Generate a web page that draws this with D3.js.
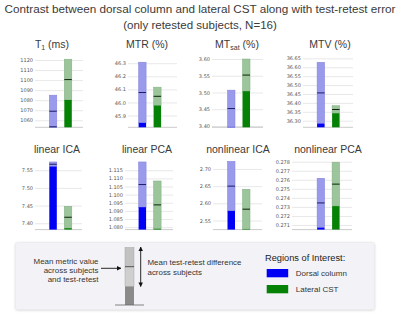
<!DOCTYPE html>
<html>
<head>
<meta charset="utf-8">
<script src="https://cdn.jsdelivr.net/npm/d3@7"></script>
<style>
html,body{margin:0;padding:0;background:#fff;}
svg{display:block;font-family:"Liberation Sans","Helvetica Neue",Arial,sans-serif;}
</style>
</head>
<body>
<svg id="chart" width="400" height="319"></svg>
<script>
// ---------- data ----------
const regions = ["Dorsal column", "Lateral CST"];
const metricTitles = ["T1 (ms)", "MTR (%)", "MTsat (%)", "MTV (%)", "linear ICA", "linear PCA", "nonlinear ICA", "nonlinear PCA"];
const dorsalMean = [1069.0, 46.076, 3.452, 36.456, 7.567, 1.1062, 2.650, 0.27344];
const dorsalDiff = [16.0, 0.232, 0.055, 0.172, 0.0065, 0.0139, 0.072, 0.00273];
const lateralMean = [1100.5, 46.047, 3.552, 36.363, 7.417, 1.0937, 2.583, 0.27552];
const lateralDiff = [20.3, 0.070, 0.048, 0.021, 0.031, 0.0147, 0.058, 0.00243];
const yMin = [1053.0, 45.81, 3.396, 36.263, 7.382, 1.0785, 2.5236, 0.27049];
const yMax = [1122.0, 46.34, 3.603, 36.652, 7.579, 1.1213, 2.726, 0.27819];
const tickValues = [
  [1060, 1070, 1080, 1090, 1100, 1110, 1120],
  [45.9, 46.0, 46.1, 46.2, 46.3],
  [3.40, 3.45, 3.50, 3.55, 3.60],
  [36.30, 36.35, 36.40, 36.45, 36.50, 36.55, 36.60, 36.65],
  [7.40, 7.45, 7.50, 7.55],
  [1.080, 1.085, 1.090, 1.095, 1.100, 1.105, 1.110, 1.115],
  [2.55, 2.60, 2.65, 2.70],
  [0.271, 0.272, 0.273, 0.274, 0.275, 0.276, 0.277, 0.278]
];
const tickFormats = [".0f", ".1f", ".2f", ".2f", ".2f", ".3f", ".2f", ".3f"];
const legendTitle = "Regions of Interest:";

// ---------- layout ----------
const svg = d3.select("#chart");
const colors = {
  "Dorsal column": {light: "#9a9aec", lightStroke: "#8080dd", dark: "#0000f5", mean: "#1c1c66"},
  "Lateral CST":   {light: "#9cc59c", lightStroke: "#80ad80", dark: "#058205", mean: "#0c240c"}
};
const barLeft = [49.3, 138.6, 227.5, 317.1];
const gridX = [
  [[35, 83], [128, 177], [212, 263], [303, 353]],
  [[35, 82], [125, 173], [213, 262], [292, 352]]
];
const rowY = [[58, 127.3], [160, 229.6]];
const titleY = [48, 152.5];
const titleX = [52, 147, 237, 330, 57, 147, 238, 328];

function fit(sel, size, target) {
  sel.attr("font-size", size);
  const w = sel.node().getComputedTextLength();
  const fs = size * target / w;
  sel.attr("font-size", fs);
  return fs;
}

// main titles
const mt = svg.append("text").attr("x", 200).attr("y", 12.5).attr("text-anchor", "middle")
  .attr("fill", "#3a3a3a")
  .text("Contrast between dorsal column and lateral CST along with test-retest error");
fit(mt, 11, 391);
const st = svg.append("text").attr("x", 200).attr("y", 28.5).attr("text-anchor", "middle")
  .attr("fill", "#3a3a3a").text("(only retested subjects, N=16)");
fit(st, 9, 154);

metricTitles.forEach((title, i) => {
  const row = Math.floor(i / 4), col = i % 4;
  const [gx0, gx1] = gridX[row][col];
  const [top, bottom] = rowY[row];
  const g = svg.append("g");

  const y = d3.scaleLinear().domain([yMin[i], yMax[i]]).range([bottom, top]);
  const x = d3.scaleBand().domain(regions)
    .range([barLeft[col] - 7.5, barLeft[col] + 30]).paddingInner(0.5).paddingOuter(0.5);

  // title
  const t = g.append("text").attr("x", titleX[i]).attr("y", titleY[row])
    .attr("text-anchor", "middle").attr("font-size", 10.5).attr("fill", "#3a3a3a");
  if (title === "T1 (ms)") {
    t.append("tspan").text("T");
    t.append("tspan").attr("font-size", 7).attr("dy", 2).text("1");
    t.append("tspan").attr("dy", -2).text(" (ms)");
  } else if (title === "MTsat (%)") {
    t.append("tspan").text("MT");
    t.append("tspan").attr("font-size", 7).attr("dy", 2).text("sat");
    t.append("tspan").attr("dy", -2).text(" (%)");
  } else {
    t.text(title);
  }

  // y axis (grid + labels)
  const axis = d3.axisLeft(y).tickValues(tickValues[i]).tickFormat(d3.format(tickFormats[i]))
    .tickSize(-(gx1 - gx0)).tickPadding(2);
  const ag = g.append("g").attr("transform", `translate(${gx0},0)`).call(axis);
  ag.select(".domain").remove();
  ag.selectAll(".tick line").attr("stroke", "#e2e2e2").attr("stroke-width", 0.8);
  ag.selectAll(".tick text").attr("font-size", 5).attr("fill", "#555")
    .attr("font-family", "'DejaVu Sans', sans-serif");
  // baseline
  g.append("line").attr("x1", gx0).attr("x2", gx1).attr("y1", bottom).attr("y2", bottom)
    .attr("stroke", "#bdbdbd").attr("stroke-width", 0.8);

  const stats = [
    {r: regions[0], m: dorsalMean[i], d: dorsalDiff[i]},
    {r: regions[1], m: lateralMean[i], d: lateralDiff[i]}
  ];
  stats.forEach(s => {
    const c = colors[s.r];
    const lo = Math.max(yMin[i], s.m - s.d);
    const hi = Math.min(yMax[i], s.m + s.d);
    g.append("rect").attr("x", x(s.r)).attr("width", x.bandwidth())
      .attr("y", y(hi)).attr("height", y(lo) - y(hi))
      .attr("fill", c.light).attr("stroke", c.lightStroke).attr("stroke-width", 0.5);
    if (s.m - s.d > yMin[i]) {
      g.append("rect").attr("x", x(s.r)).attr("width", x.bandwidth())
        .attr("y", y(s.m - s.d)).attr("height", y(yMin[i]) - y(s.m - s.d))
        .attr("fill", c.dark);
    } else {
      g.append("rect").attr("x", x(s.r)).attr("width", x.bandwidth())
        .attr("y", y(yMin[i]) - 1).attr("height", 1).attr("fill", c.mean);
    }
    g.append("line").attr("x1", x(s.r)).attr("x2", x(s.r) + x.bandwidth())
      .attr("y1", y(s.m)).attr("y2", y(s.m)).attr("stroke", c.mean).attr("stroke-width", 1);
  });
});

// ---------- legend box ----------
const lg = svg.append("g");
const defs = svg.append("defs");
const flt = defs.append("filter").attr("id", "sh").attr("x", "-5%").attr("y", "-10%").attr("width", "110%").attr("height", "130%");
flt.append("feDropShadow").attr("dx", 0).attr("dy", 0.6).attr("stdDeviation", 0.8).attr("flood-color", "#000").attr("flood-opacity", 0.18);
lg.append("rect").attr("x", 15.5).attr("y", 242.5).attr("width", 359).attr("height", 67).attr("rx", 2)
  .attr("fill", "#f3f3f7").attr("stroke", "#e4e4e8").attr("stroke-width", 0.5).attr("filter", "url(#sh)");

const arrowDefs = defs.append("marker").attr("id", "ah").attr("viewBox", "0 0 10 10").attr("refX", 9).attr("refY", 5)
  .attr("markerWidth", 5).attr("markerHeight", 5).attr("orient", "auto-start-reverse");
arrowDefs.append("path").attr("d", "M0,0 L10,5 L0,10 z").attr("fill", "#111");

// example bar
lg.append("rect").attr("x", 125).attr("y", 247.5).attr("width", 9).attr("height", 19).attr("fill", "#c2c2c2").attr("stroke", "#999").attr("stroke-width", 0.4);
lg.append("rect").attr("x", 125).attr("y", 266.5).attr("width", 9).attr("height", 20).attr("fill", "#cfcfcf").attr("stroke", "#999").attr("stroke-width", 0.4);
lg.append("rect").attr("x", 125).attr("y", 286.5).attr("width", 9).attr("height", 18.5).attr("fill", "#8a8a8a");
lg.append("line").attr("x1", 125).attr("x2", 134).attr("y1", 266.7).attr("y2", 266.7).attr("stroke", "#555").attr("stroke-width", 1);
lg.append("line").attr("x1", 115).attr("x2", 144).attr("y1", 305).attr("y2", 305).attr("stroke", "#666").attr("stroke-width", 0.8);

lg.append("line").attr("x1", 101).attr("x2", 121).attr("y1", 268.3).attr("y2", 268.3)
  .attr("stroke", "#111").attr("stroke-width", 0.9).attr("marker-end", "url(#ah)");
lg.append("line").attr("x1", 140.7).attr("x2", 140.7).attr("y1", 247).attr("y2", 286.5)
  .attr("stroke", "#111").attr("stroke-width", 0.9).attr("marker-end", "url(#ah)").attr("marker-start", "url(#ah)");

const leftText = ["Mean metric value", "across subjects", "and test-retest"];
const lt0 = lg.append("text").attr("x", 98.5).attr("y", 264).attr("text-anchor", "end").attr("fill", "#333").text(leftText[0]);
const lfs = fit(lt0, 7.2, 65);
leftText.slice(1).forEach((s, k) => {
  lg.append("text").attr("x", 98.5).attr("y", 273.2 + k * 9.2).attr("text-anchor", "end")
    .attr("font-size", lfs).attr("fill", "#333").text(s);
});
const midText = ["Mean test-retest difference", "across subjects"];
const mt0 = lg.append("text").attr("x", 147.5).attr("y", 265).attr("fill", "#333").text(midText[0]);
const mfs = fit(mt0, 7.2, 94);
lg.append("text").attr("x", 147.5).attr("y", 274.8).attr("font-size", mfs).attr("fill", "#333").text(midText[1]);

const lt = lg.append("text").attr("x", 265).attr("y", 260.8).attr("fill", "#222").text(legendTitle);
fit(lt, 8.4, 80);
let rfs = 7.2;
regions.forEach((r, k) => {
  lg.append("rect").attr("x", 266.7).attr("y", 269 + k * 16).attr("width", 21.5).attr("height", 8.3)
    .attr("fill", colors[r].dark);
  const tx = lg.append("text").attr("x", 295.8).attr("y", 276.2 + k * 16).attr("fill", "#333").text(r);
  if (k === 0) rfs = fit(tx, 7.2, 51); else tx.attr("font-size", rfs);
});
</script>
</body>
</html>
